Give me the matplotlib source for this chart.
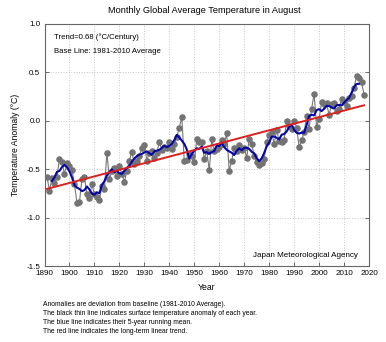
# -*- coding: utf-8 -*-

import numpy as np
import matplotlib
matplotlib.use('Agg')
import matplotlib.pyplot as plt


TITLE = u'Monthly Global Average Temperature in August'
NOTES = [
    u'Anomalies are deviation from baseline (1981-2010 Average).',
    u'The black thin line indicates surface temperature anomaly of each year.',
    u'The blue line indicates their 5-year running mean.',
    u'The red line indicates the long-term linear trend.',
]

years = list(range(1891, 2019))
anomaly = [
    -0.58, -0.72, -0.59, -0.64, -0.58, -0.39, -0.43, -0.55, -0.44, -0.47,  # 1891-1900
    -0.51, -0.65, -0.85, -0.84, -0.60, -0.58, -0.76, -0.80, -0.65, -0.76,  # 1901-1910
    -0.79, -0.82, -0.67, -0.70, -0.33, -0.60, -0.52, -0.49, -0.57, -0.47,  # 1911-1920
    -0.55, -0.63, -0.52, -0.41, -0.32, -0.45, -0.41, -0.36, -0.28, -0.25,  # 1921-1930
    -0.41, -0.33, -0.31, -0.38, -0.33, -0.22, -0.30, -0.27, -0.28, -0.22,  # 1931-1940
    -0.29, -0.24, -0.17, -0.07, 0.04, -0.42, -0.40, -0.34, -0.36, -0.43,   # 1941-1950
    -0.19, -0.22, -0.22, -0.39, -0.31, -0.51, -0.19, -0.31, -0.29, -0.27,  # 1951-1960
    -0.20, -0.24, -0.13, -0.52, -0.41, -0.28, -0.31, -0.25, -0.30, -0.28,  # 1961-1970
    -0.38, -0.19, -0.24, -0.36, -0.43, -0.46, -0.44, -0.39, -0.22, -0.15,  # 1971-1980
    -0.12, -0.24, -0.09, -0.21, -0.22, -0.20, 0.00, -0.05, -0.08, 0.00,    # 1981-1990
    -0.07, -0.27, -0.20, -0.12, 0.05, -0.08, 0.12, 0.28, -0.06, 0.02,      # 1991-2000
    0.19, 0.17, 0.18, 0.06, 0.17, 0.18, 0.10, 0.12, 0.23, 0.19,            # 2001-2010
    0.15, 0.24, 0.26, 0.34, 0.46, 0.44, 0.40, 0.27,                        # 2011-2018
]

x_ticks = list(range(1890, 2021, 10))
y_ticks = [-1.5, -1.0, -0.5, 0.0, 0.5, 1.0]


def running_mean(vals, n=5):
    vals = np.asarray(vals)
    out = np.convolve(vals, np.ones(n) / n, mode='valid')
    return out


plt.rcParams['font.family'] = ['Liberation Sans', 'DejaVu Sans']

fig = plt.figure(figsize=(3.86, 3.42), dpi=100)
ax = fig.add_axes([0.1153, 0.222, 0.8407, 0.708])

yr = np.array(years)
val = np.array(anomaly)

# yearly values
ax.plot(yr, val, color='#777777', lw=0.8, marker='o', ms=3.7,
        mfc='#737373', mec='#737373', zorder=3)

# 5-year running mean
rm = running_mean(val)
ax.plot(yr[2:-2], rm, color='#0505a5', lw=1.5, zorder=4)

# linear trend
coef = np.polyfit(yr, val, 1)
ax.plot(yr, np.polyval(coef, yr), color='#dd2020', lw=1.4, zorder=5)

ax.set_xlim(1890, 2020)
ax.set_ylim(-1.5, 1.0)
ax.set_xticks(x_ticks)
ax.set_yticks(y_ticks)
ax.set_yticklabels(['%.1f' % t for t in y_ticks])
ax.tick_params(direction='in', length=3, width=0.6, labelsize=5.8,
               color='#555555', top=False, right=True, pad=3)
ax.grid(True, color='#c8c8c8', ls=':', lw=0.7)
for s in ax.spines.values():
    s.set_color('#666666')
    s.set_linewidth(0.8)

ax.set_xlabel(u'Year', fontsize=6.2, labelpad=4)
ax.set_ylabel(u'Temperature Anomaly (\u00b0C)', fontsize=6.2, labelpad=5)
fig.text(0.53, 0.968, TITLE, ha='center', va='center', fontsize=6.6)

ax.text(0.03, 0.945, u'Trend=0.68 (\u00b0C/Century)', transform=ax.transAxes,
        fontsize=5.6, va='center')
ax.text(0.03, 0.888, u'Base Line: 1981-2010 Average', transform=ax.transAxes,
        fontsize=5.6, va='center')
ax.text(0.965, 0.045, u'Japan Meteorological Agency', transform=ax.transAxes,
        fontsize=5.8, ha='right', va='center')

for i, line in enumerate(NOTES):
    fig.text(0.112, 0.111 - i * 0.0265, line, fontsize=4.9, va='center')

fig.savefig('out.png', dpi=100)
